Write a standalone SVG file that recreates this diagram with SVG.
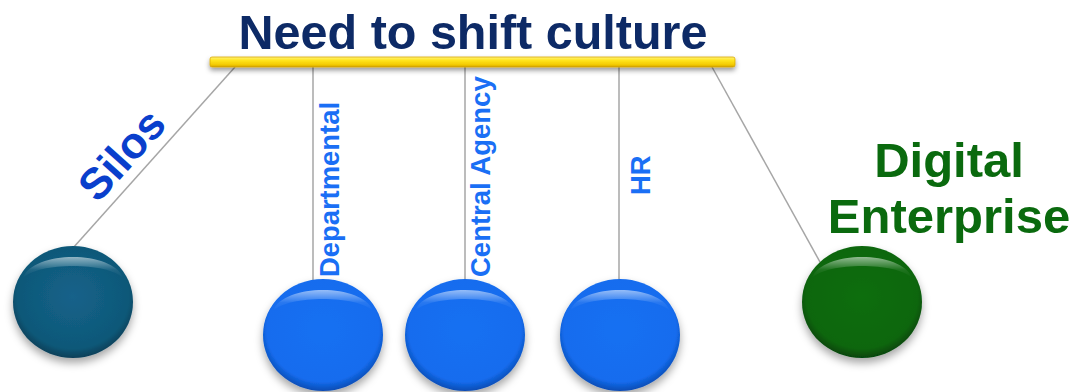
<svg xmlns="http://www.w3.org/2000/svg" width="1076" height="392" viewBox="0 0 1076 392">
<style>
.cord{stroke:#a6a6a6;stroke-width:1.5;fill:none}
.lbl{font-family:"Liberation Sans",Arial,sans-serif;font-weight:bold}
.vert{font-size:27.5px;fill:#1a6ff5}
</style>
<defs>
<filter id="sh" x="-30%" y="-30%" width="160%" height="170%">
<feDropShadow dx="0" dy="5" stdDeviation="4" flood-color="#000" flood-opacity="0.35"/>
</filter>
<filter id="bsh" x="-5%" y="-100%" width="110%" height="400%">
<feDropShadow dx="0" dy="3" stdDeviation="2.5" flood-color="#000" flood-opacity="0.4"/>
</filter>
<radialGradient id="gTeal" cx="0.5" cy="0.45" r="0.55">
<stop offset="0" stop-color="#14628a"/><stop offset="0.85" stop-color="#0f5878"/><stop offset="1" stop-color="#0a3f58"/>
</radialGradient>
<radialGradient id="gBlue" cx="0.5" cy="0.45" r="0.55">
<stop offset="0" stop-color="#1570f2"/><stop offset="0.85" stop-color="#146cee"/><stop offset="1" stop-color="#0a4cb4"/>
</radialGradient>
<radialGradient id="gGreen" cx="0.5" cy="0.45" r="0.55">
<stop offset="0" stop-color="#0b6e10"/><stop offset="0.85" stop-color="#0a660e"/><stop offset="1" stop-color="#064408"/>
</radialGradient>
<linearGradient id="hl" x1="0" y1="0" x2="0" y2="1">
<stop offset="0" stop-color="#fff" stop-opacity="0.55"/><stop offset="0.6" stop-color="#fff" stop-opacity="0.08"/><stop offset="1" stop-color="#fff" stop-opacity="0"/>
</linearGradient>
<linearGradient id="bar" x1="0" y1="0" x2="0" y2="1">
<stop offset="0" stop-color="#fff27a"/><stop offset="0.35" stop-color="#ffe41a"/><stop offset="0.8" stop-color="#f2c800"/><stop offset="1" stop-color="#c89a00"/>
</linearGradient>
<g id="ballHl">
<path d="M-50,-24 C-40,-52 40,-52 50,-24 C35,-40 -35,-40 -50,-24 Z" fill="url(#hl)"/>
</g>
</defs>

<g id="connectors">
<line class="cord" x1="235" y1="67" x2="73" y2="248"/>
<line class="cord" x1="313" y1="67" x2="313" y2="281"/>
<line class="cord" x1="465" y1="67" x2="465" y2="281"/>
<line class="cord" x1="619" y1="67" x2="619" y2="281"/>
<line class="cord" x1="712" y1="67" x2="820" y2="262"/>
</g>

<g id="title">
<rect x="210" y="57" width="525" height="10" rx="2" fill="url(#bar)" stroke="#d9a800" stroke-width="0.8" filter="url(#bsh)"/>
<text class="lbl" x="473" y="49" text-anchor="middle" font-size="48.5" fill="#0d2a66">Need to shift culture</text>
</g>

<g id="silos">
<ellipse cx="73" cy="302" rx="60" ry="56" fill="url(#gTeal)" filter="url(#sh)"/>
<use href="#ballHl" x="73" y="302"/>
<text class="lbl" transform="translate(133,165) rotate(-48)" text-anchor="middle" font-size="44" fill="#0a3fcc">Silos</text>
</g>

<g id="departmental">
<ellipse cx="323" cy="335" rx="60" ry="56" fill="url(#gBlue)" filter="url(#sh)"/>
<use href="#ballHl" x="323" y="335"/>
<text class="lbl vert" transform="translate(339,277) rotate(-90)" textLength="175" lengthAdjust="spacingAndGlyphs">Departmental</text>
</g>

<g id="central-agency">
<ellipse cx="465" cy="335" rx="60" ry="56" fill="url(#gBlue)" filter="url(#sh)"/>
<use href="#ballHl" x="465" y="335"/>
<text class="lbl vert" transform="translate(490,277) rotate(-90)">Central Agency</text>
</g>

<g id="hr">
<ellipse cx="620" cy="335" rx="60" ry="56" fill="url(#gBlue)" filter="url(#sh)"/>
<use href="#ballHl" x="620" y="335"/>
<text class="lbl vert" transform="translate(650,195) rotate(-90)">HR</text>
</g>

<g id="digital-enterprise">
<ellipse cx="862" cy="302" rx="60" ry="56" fill="url(#gGreen)" filter="url(#sh)"/>
<use href="#ballHl" x="862" y="302"/>
<text class="lbl" text-anchor="middle" font-size="49" fill="#0a6a0e"><tspan x="949" y="177">Digital</tspan><tspan x="949" y="233">Enterprise</tspan></text>
</g>
</svg>
